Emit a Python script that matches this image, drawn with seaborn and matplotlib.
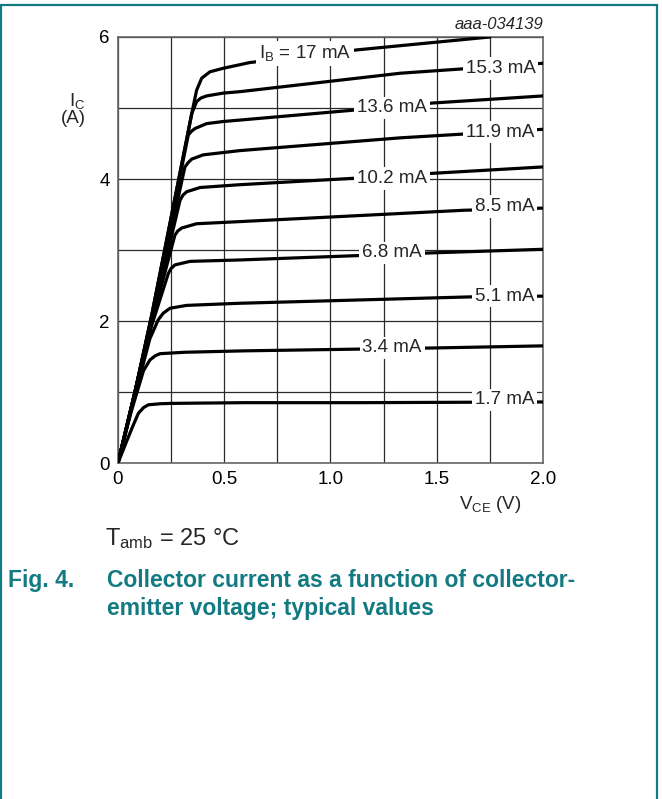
"""Collector current vs collector-emitter voltage, typical values (Fig. 4)."""

import matplotlib.pyplot as plt
import pandas as pd
import seaborn as sns
from matplotlib.patches import Rectangle

# Base currents (mA) and curves
ib_values = [17, 15.3, 13.6, 11.9, 10.2, 8.5, 6.8, 5.1, 3.4, 1.7]

vce_17 = [0, 0.08, 0.16, 0.354, 0.37, 0.394, 0.433, 0.496, 0.574, 0.62, 1.13, 1.75]
ic_17 = [0, 1.0, 2.1, 5.02, 5.25, 5.42, 5.51, 5.56, 5.61, 5.64, 5.82, 6.0]

vce_153 = [0, 0.08, 0.16, 0.347, 0.37, 0.39, 0.417, 0.496, 0.574, 1.33, 2.0]
ic_153 = [0, 1.0, 2.1, 4.92, 5.09, 5.14, 5.17, 5.21, 5.23, 5.49, 5.63]

vce_136 = [0, 0.08, 0.16, 0.331, 0.345, 0.362, 0.417, 0.496, 0.574, 1.11, 1.48, 2.0]
ic_136 = [0, 1.0, 2.08, 4.62, 4.67, 4.71, 4.78, 4.81, 4.83, 4.97, 5.07, 5.17]

vce_119 = [0, 0.08, 0.16, 0.315, 0.33, 0.347, 0.401, 0.574, 1.33, 2.0]
ic_119 = [0, 1.0, 2.05, 4.17, 4.23, 4.28, 4.34, 4.40, 4.58, 4.70]

vce_102 = [0, 0.08, 0.16, 0.292, 0.305, 0.323, 0.386, 0.574, 1.11, 1.48, 2.0]
ic_102 = [0, 1.0, 2.03, 3.70, 3.77, 3.82, 3.88, 3.92, 4.01, 4.08, 4.17]

vce_85 = [0, 0.08, 0.16, 0.268, 0.282, 0.30, 0.37, 0.574, 1.63, 2.0]
ic_85 = [0, 1.0, 2.0, 3.21, 3.27, 3.31, 3.37, 3.40, 3.56, 3.59]

vce_68 = [0, 0.08, 0.16, 0.237, 0.25, 0.268, 0.339, 0.574, 1.48, 2.0]
ic_68 = [0, 0.98, 1.95, 2.67, 2.74, 2.79, 2.84, 2.86, 2.96, 3.01]

vce_51 = [0, 0.08, 0.15, 0.19, 0.213, 0.245, 0.323, 0.574, 1.66, 2.0]
ic_51 = [0, 0.95, 1.75, 2.02, 2.11, 2.18, 2.22, 2.25, 2.34, 2.35]

vce_34 = [0, 0.06, 0.12, 0.15, 0.175, 0.198, 0.315, 0.598, 1.48, 2.0]
ic_34 = [0, 0.7, 1.3, 1.45, 1.51, 1.54, 1.56, 1.58, 1.62, 1.65]

vce_17m = [0, 0.04, 0.07, 0.096, 0.12, 0.143, 0.2, 0.252, 0.598, 1.14, 2.0]
ic_17m = [0, 0.3, 0.52, 0.70, 0.78, 0.82, 0.835, 0.84, 0.85, 0.85, 0.86]

x_ticks = [0, 0.5, 1.0, 1.5, 2.0]
x_tick_labels = ["0", "0.5", "1.0", "1.5", "2.0"]
y_ticks = [0, 2, 4, 6]

curves = [(vce_17, ic_17), (vce_153, ic_153), (vce_136, ic_136), (vce_119, ic_119),
          (vce_102, ic_102), (vce_85, ic_85), (vce_68, ic_68), (vce_51, ic_51),
          (vce_34, ic_34), (vce_17m, ic_17m)]

frames = []
for ib, (v, i) in zip(ib_values, curves):
    frames.append(pd.DataFrame({"vce": v, "ic": i, "ib": str(ib)}))
df = pd.concat(frames, ignore_index=True)

sns.set_theme(style="white")
plt.rcParams["font.family"] = ["Liberation Sans", "DejaVu Sans"]
teal = "#137a82"

fig = plt.figure(figsize=(6.62, 7.99), dpi=100)
ax = fig.add_axes([0.1782, 0.4205, 0.642, 0.5332])

sns.lineplot(data=df, x="vce", y="ic", hue="ib", palette=["black"] * len(ib_values),
             sort=False, estimator=None, legend=False, lw=2.3, ax=ax, zorder=3,
             solid_joinstyle="round")

ax.set_xlim(0, 2.0)
ax.set_ylim(0, 6)
ax.set_xticks(x_ticks)
ax.set_xticklabels(x_tick_labels)
ax.set_yticks(y_ticks)
ax.set_xticks([0.25 * k for k in range(9)], minor=True)
ax.set_yticks(list(range(7)), minor=True)
ax.grid(which="both", color="#2a2a2a", lw=0.9, zorder=1)
ax.tick_params(which="both", length=0, labelsize=13.5, pad=6, colors="black")
ax.set_xlabel("")
ax.set_ylabel("")
for sp in ax.spines.values():
    sp.set_color("#666666")
    sp.set_linewidth(1.2)

# curve labels on white boxes
label_pos = [(0.88, 5.77), (1.80, 5.56), (1.29, 5.0), (1.80, 4.66), (1.29, 4.01),
             (1.82, 3.61), (1.29, 2.96), (1.82, 2.35), (1.29, 1.62), (1.82, 0.89)]
for k, (ib, (lx, ly)) in enumerate(zip(ib_values, label_pos)):
    txt = f"{ib:g} mA" if k else r"$\mathregular{I_B}$ = 17 mA"
    ax.text(lx, ly, txt, ha="center", va="center", fontsize=13.5, zorder=5,
            bbox=dict(facecolor="white", edgecolor="none", pad=2.0))

fig.text(0.8202, 0.969, "aaa-034139", ha="right", va="center", fontsize=12,
         style="italic")
fig.text(0.116, 0.873, r"$\mathregular{I_C}$", ha="center", va="center", fontsize=13.5)
fig.text(0.111, 0.852, "(A)", ha="center", va="center", fontsize=13.5)
fig.text(0.740, 0.369, r"$\mathregular{V_{CE}}$ (V)", ha="center", va="center",
         fontsize=13.5)
fig.text(0.158, 0.326, r"$\mathregular{T_{amb}}$ = 25 °C", ha="left", va="center",
         fontsize=17)
fig.text(0.012, 0.274, "Fig. 4.", ha="left", va="center", fontsize=16.5,
         fontweight="bold", color=teal)
fig.text(0.162, 0.274, "Collector current as a function of collector-", ha="left",
         va="center", fontsize=16.5, fontweight="bold", color=teal)
fig.text(0.162, 0.239, "emitter voltage; typical values", ha="left", va="center",
         fontsize=16.5, fontweight="bold", color=teal)

fig.patches.append(Rectangle((0.001, -0.01), 0.9915, 1.0037, transform=fig.transFigure,
                             fill=False, edgecolor=teal, lw=1.6))

fig.savefig("out.png", dpi=100)
